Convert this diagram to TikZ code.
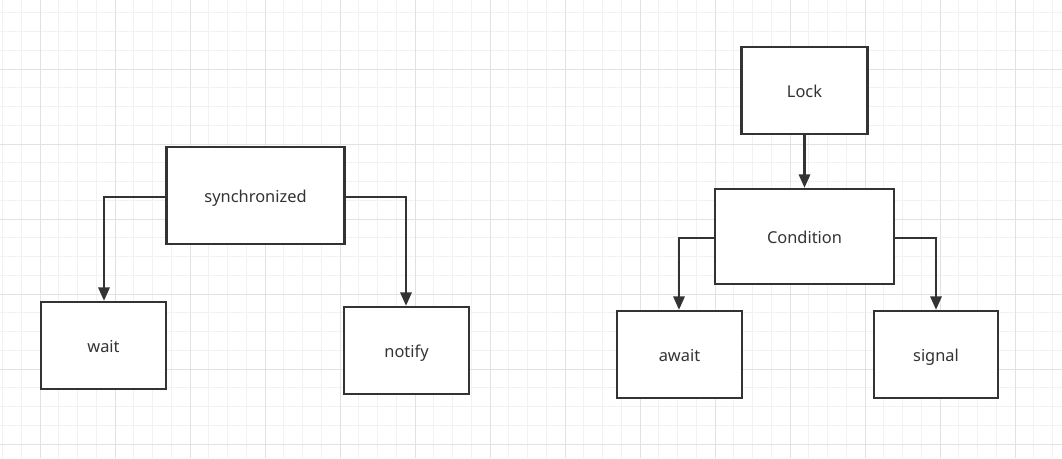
\documentclass[tikz,border=0pt]{standalone}
\usepackage{fontspec}
\setmainfont{Noto Sans}
\usetikzlibrary{arrows.meta}
\definecolor{ink}{HTML}{333333}
\definecolor{minorgrid}{HTML}{F2F2F2}
\definecolor{majorgrid}{HTML}{E2E2E2}
\tikzset{
  box/.style={draw=ink, line width=1.9pt, fill=white, rectangle, inner sep=0pt, text=ink,
    text height=12pt, text depth=1.5pt, font=\fontsize{12.3}{14}\selectfont},
  conn/.style={draw=ink, line width=1.6pt, -{Triangle[length=10pt,width=8.5pt]}}
}
\begin{document}
\begin{tikzpicture}[x=0.75pt,y=-0.75pt]
\useasboundingbox (0,0) rectangle (1062,458);
\fill[white] (0,0) rectangle (1062,458);
% minor grid
\foreach \i in {0,...,57} {
  \draw[minorgrid, line width=0.75pt] ({2.5+18.75*\i},0) -- ({2.5+18.75*\i},458);
}
\foreach \j in {0,...,24} {
  \draw[minorgrid, line width=0.75pt] (0,{12.75+18.75*\j}) -- (1062,{12.75+18.75*\j});
}
% major grid
\foreach \i in {0,...,14} {
  \draw[majorgrid, line width=0.75pt] ({40+75*\i},0) -- ({40+75*\i},458);
}
\foreach \j in {0,...,6} {
  \draw[majorgrid, line width=0.75pt] (0,{69+75*\j}) -- (1062,{69+75*\j});
}
% nodes
\node[box, minimum width=133.5pt, minimum height=72.75pt] (sync) at (255.5,195.5) {synchronized};
\node[box, minimum width=93.75pt, minimum height=65.25pt] (wait) at (103.5,345.5) {wait};
\node[box, minimum width=93.75pt, minimum height=65.25pt] (notify) at (406.5,350.5) {notify};
\node[box, minimum width=94.5pt, minimum height=65.25pt] (lock) at (804.5,90.5) {Lock};
\node[box, minimum width=134.25pt, minimum height=71.25pt] (cond) at (804.5,236.5) {Condition};
\node[box, minimum width=93.75pt, minimum height=65.25pt] (await) at (679.5,354.5) {await};
\node[box, minimum width=93pt, minimum height=65.25pt] (signal) at (936,354.5) {signal};
% connectors
\coordinate (c1) at (104,197);
\coordinate (c2) at (406,197);
\coordinate (c3) at (679,238);
\coordinate (c4) at (936,238);
\draw[conn] (sync.west |- c1) -- (c1) -- (wait.north -| c1);
\draw[conn] (sync.east |- c2) -- (c2) -- (notify.north -| c2);
\draw[conn] (lock.south) -- (cond.north);
\draw[conn] (cond.west |- c3) -- (c3) -- (await.north -| c3);
\draw[conn] (cond.east |- c4) -- (c4) -- (signal.north -| c4);
\end{tikzpicture}
\end{document}
